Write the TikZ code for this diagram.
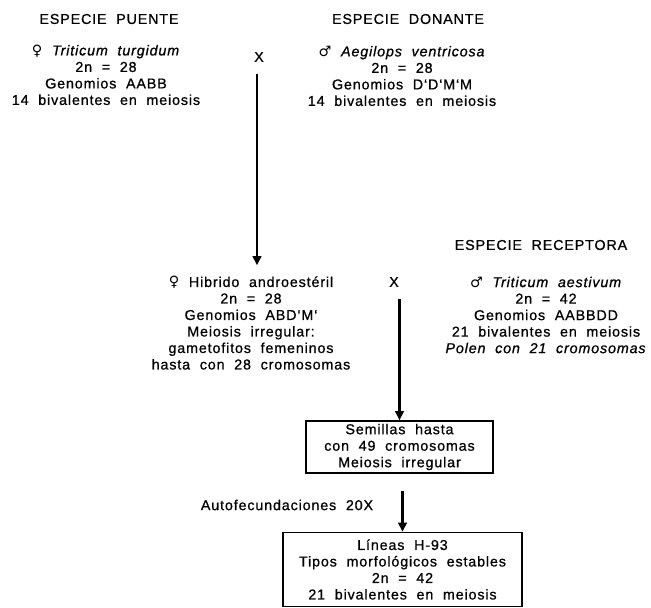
\documentclass[tikz,border=0pt]{standalone}
\usepackage{fontspec}
\setmainfont{Liberation Sans}[LetterSpace=6,WordSpace=2.0,FakeBold=0.8]
\newfontfamily\symf{DejaVu Sans}
\usetikzlibrary{arrows.meta}
\begin{document}
\begin{tikzpicture}[x=1bp,y=-1bp,
  txt/.style={align=center,inner sep=0pt,font=\fontsize{14.3bp}{16.5bp}\selectfont},
  boxed/.style={txt,draw,line width=1.6bp},
  flow/.style={line width=2.6bp,-{Triangle[length=9bp,width=8.5bp]}}]
\useasboundingbox (0,0) rectangle (651,608);
\node[txt] (puente) at (109,19) {ESPECIE PUENTE};
\node[txt] (donante) at (408,19) {ESPECIE DONANTE};
\node[txt] (turg) at (106,75) {{\symf ♀} \textit{Triticum turgidum}\\2n = 28\\Genomios AABB\\14 bivalentes en meiosis};
\node[txt] (x1) at (259,57) {X};
\node[txt] (aeg) at (402,76) {{\symf ♂} \textit{Aegilops ventricosa}\\2n = 28\\Genomios D‘D‘M‘M\\14 bivalentes en meiosis};
\node[txt] (receptora) at (541,245) {ESPECIE RECEPTORA};
\node[txt] (hyb) at (251,323) {{\symf ♀} Hibrido androestéril\\2n = 28\\Genomios ABD‘M‘\\Meiosis irregular:\\gametofitos femeninos\\hasta con 28 cromosomas};
\node[txt] (x2) at (394,282) {X};
\node[txt] (aest) at (546,315) {{\symf ♂} \textit{Triticum aestivum}\\2n = 42\\Genomios AABBDD\\21 bivalentes en meiosis\\\textit{Polen con 21 cromosomas}};
\node[boxed,minimum width=187bp,minimum height=52bp] (sem) at (399.5,447) {Semillas hasta\\con 49 cromosomas\\Meiosis irregular};
\node[txt] (auto) at (287,505) {Autofecundaciones 20X};
\node[boxed,minimum width=239bp,minimum height=74bp] (lin) at (402.5,569.5) {Líneas H-93\\Tipos morfológicos estables\\2n = 42\\21 bivalentes en meiosis};
\draw[flow,shorten <=12bp,shorten >=11bp] (x1.south -| 257,0) -- (257,0 |- hyb.north);
\draw[flow,shorten <=12bp] (sem.north |- x2.south) -- (sem.north);
\draw[flow,shorten <=17bp] (sem.south -| lin.north) -- (lin.north);
\end{tikzpicture}
\end{document}
